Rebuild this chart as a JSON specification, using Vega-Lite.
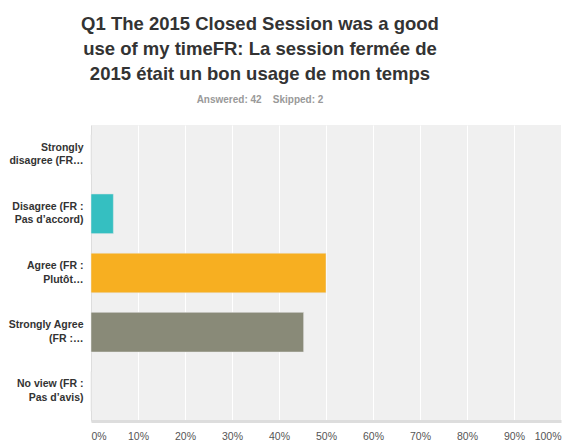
{
  "$schema": "https://vega.github.io/schema/vega-lite/v6.json",
  "autosize": {"type": "none"},
  "padding": {"left": 91, "top": 125, "right": 1, "bottom": 20},
  "width": 470,
  "height": 296,
  "background": "white",
  "title": {
    "text": ["Q1 The 2015 Closed Session was a good", "use of my timeFR: La session fermée de", "2015 était un bon usage de mon temps"],
    "subtitle": "Answered: 42\u00a0\u00a0\u00a0\u00a0Skipped: 2",
    "anchor": "middle",
    "dx": -66,
    "font": "Liberation Sans",
    "fontSize": 18.5,
    "fontWeight": "bold",
    "color": "#333333",
    "lineHeight": 25,
    "subtitleFont": "Liberation Sans",
    "subtitleFontSize": 10,
    "subtitleFontWeight": "bold",
    "subtitleColor": "#999999",
    "subtitlePadding": 12,
    "offset": 20
  },
  "data": {
    "values": [
      {"label": "Strongly|disagree (FR…", "pct": 0, "answer": "Strongly disagree"},
      {"label": "Disagree (FR :|Pas d’accord)", "pct": 0.0476, "answer": "Disagree"},
      {"label": "Agree (FR :|Plutôt…", "pct": 0.5, "answer": "Agree"},
      {"label": "Strongly Agree|(FR :…", "pct": 0.4524, "answer": "Strongly Agree"},
      {"label": "No view (FR :|Pas d’avis)", "pct": 0, "answer": "No view"}
    ]
  },
  "mark": {"type": "bar", "stroke": "#e8e8e8", "strokeWidth": 0.5},
  "encoding": {
    "y": {
      "field": "label",
      "type": "nominal",
      "sort": null,
      "scale": {"paddingInner": 0.33, "paddingOuter": 0.165},
      "axis": {
        "title": null,
        "domain": true,
        "domainColor": "#dddddd",
        "domainWidth": 1,
        "ticks": false,
        "grid": false,
        "labelExpr": "split(datum.label, '|')",
        "labelFont": "Liberation Sans",
        "labelFontSize": 10.5,
        "labelFontWeight": "bold",
        "labelColor": "#333333",
        "labelLineHeight": 13.5,
        "labelOffset": -7,
        "labelPadding": 8,
        "labelLimit": 200
      }
    },
    "x": {
      "field": "pct",
      "type": "quantitative",
      "scale": {"domain": [0, 1], "nice": false},
      "axis": {
        "title": null,
        "format": ".0%",
        "values": [0, 0.1, 0.2, 0.3, 0.4, 0.5, 0.6, 0.7, 0.8, 0.9, 1],
        "grid": true,
        "gridColor": "#ffffff",
        "gridWidth": 1,
        "domain": true,
        "domainColor": "#dddddd",
        "domainWidth": 3,
        "ticks": false,
        "labelFont": "Liberation Sans",
        "labelFontSize": 10.5,
        "labelColor": "#555555",
        "labelPadding": 10
      }
    },
    "color": {
      "field": "answer",
      "type": "nominal",
      "legend": null,
      "scale": {
        "domain": ["Strongly disagree", "Disagree", "Agree", "Strongly Agree", "No view"],
        "range": ["#2f8fce", "#35bfc1", "#f7af21", "#898a78", "#e05b5b"]
      }
    }
  },
  "config": {
    "view": {"fill": "#f0f0f0", "stroke": null}
  }
}
